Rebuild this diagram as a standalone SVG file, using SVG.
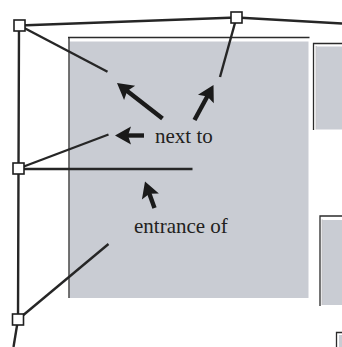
<svg xmlns="http://www.w3.org/2000/svg" width="342" height="347" viewBox="0 0 342 347">
<style>
.bg{fill:#c9ccd3;stroke:none}
.edge{fill:none;stroke:#2b2b2b;stroke-width:1.3}
.con{fill:none;stroke:#262626;stroke-width:2.4;stroke-linecap:butt}
.arr{fill:none;stroke:#1a1a1a;stroke-width:4.4;marker-end:url(#head)}
.node{fill:#ffffff;stroke:#1e1e1e;stroke-width:1.6}
.lbl{font-family:"Liberation Serif","Times New Roman",serif;font-size:21px;fill:#231f20}
</style>
<defs>
<marker id="head" markerUnits="userSpaceOnUse" viewBox="-9 -10 19 20" markerWidth="19" markerHeight="20" refX="0" refY="0" orient="auto" overflow="visible">
<path d="M-8,-9 L8,0 L-8,9 L-5,0 z" fill="#1a1a1a"/>
</marker>
</defs>
<g id="rooms">
<rect class="bg" x="69.5" y="41.5" width="239" height="256.5"/>
<path class="edge" d="M68,37.5 H309.5 M69,37.5 V298"/>
<rect class="bg" x="317" y="46.5" width="25" height="83"/>
<path d="M316.2,46 V129.5" stroke="#9a9ca2" stroke-width="0.8" fill="none"/>
<path class="edge" d="M313.5,130 V43.5 H342" stroke-width="1.6"/>
<rect class="bg" x="323" y="220" width="19" height="85"/>
<path d="M322.2,219.5 V305" stroke="#9a9ca2" stroke-width="0.8" fill="none"/>
<path class="edge" d="M320,306 V216 H342" stroke-width="1.6"/>
<rect class="bg" x="339" y="335" width="3" height="12"/>
<path class="edge" d="M336.5,347 V332.5 H342" stroke-width="1.6"/>
</g>
<g id="connectors">
<polyline class="con" points="19.5,25.5 236.5,17.5 342,23.5" stroke-width="2"/>
<polyline class="con" points="19,25.5 18.5,168.5 18,319.5"/>
<line class="con" x1="19.5" y1="25.5" x2="107.5" y2="71.8"/>
<line class="con" x1="236.5" y1="17.5" x2="220" y2="77"/>
<line class="con" x1="18.5" y1="168.5" x2="108.5" y2="134.5"/>
<line class="con" x1="18.5" y1="169" x2="192.5" y2="169"/>
<line class="con" x1="18" y1="319.5" x2="108.5" y2="244"/>
<line class="con" x1="18" y1="319.5" x2="13.5" y2="347"/>
<line class="arr" x1="162.5" y1="118.5" x2="123.3" y2="87.9"/>
<line class="arr" x1="194.5" y1="120" x2="209.7" y2="92"/>
<line class="arr" x1="144" y1="135.5" x2="123" y2="135.5"/>
<line class="arr" x1="154.5" y1="208" x2="147.7" y2="189"/>
</g>
<g id="node-topleft"><rect class="node" x="14" y="20" width="11" height="11"/></g>
<g id="node-top"><rect class="node" x="231" y="12" width="11" height="11"/></g>
<g id="node-middle"><rect class="node" x="13" y="163" width="11" height="11"/></g>
<g id="node-bottom"><rect class="node" x="12.5" y="314" width="11" height="11"/></g>
<g id="labels">
<text class="lbl" x="155" y="142.5">next to</text>
<text class="lbl" x="134" y="233">entrance of</text>
</g>
</svg>
